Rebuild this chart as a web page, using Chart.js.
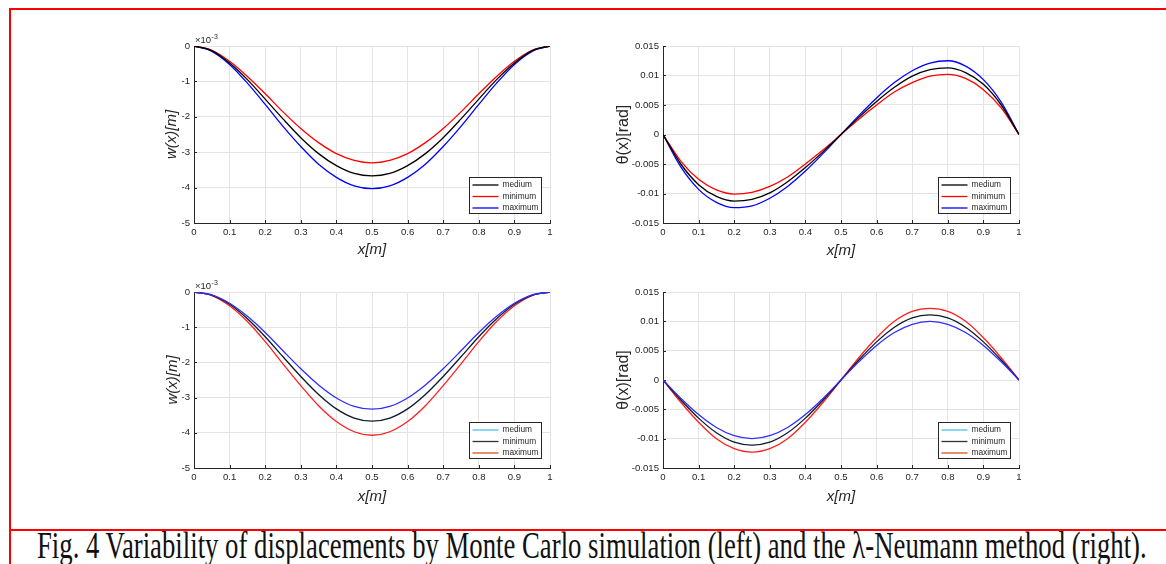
<!DOCTYPE html>
<html>
<head>
<meta charset="utf-8">
<script src="https://cdn.jsdelivr.net/npm/chart.js@4"></script>
<style>
  html, body { margin: 0; padding: 0; width: 1166px; height: 564px; overflow: hidden; background: #fff; }
  #frame { position: absolute; left: 9px; top: 8px; width: 1200px; height: 600px; border-left: 2px solid #f00; border-top: 2px solid #f00; }
  #rule { position: absolute; left: 9px; top: 529px; width: 1200px; height: 2px; background: #f00; }
  canvas { position: absolute; }
  #caption { position: absolute; left: 37px; top: 526px; font-family: "Liberation Serif", "Times New Roman", serif; font-size: 38px; line-height: 38px; white-space: nowrap; color: #111; transform-origin: 0 0; }
</style>
</head>
<body>
<div id="frame"></div>
<div id="rule"></div>
<canvas id="mcDisp" width="414" height="233" style="left:150px;top:26px"></canvas>
<canvas id="mcRot" width="424" height="234" style="left:606px;top:26px"></canvas>
<canvas id="lnDisp" width="414" height="234" style="left:150px;top:272px"></canvas>
<canvas id="lnRot" width="424" height="234" style="left:606px;top:272px"></canvas>
<div id="caption">Fig. 4 Variability of displacements by Monte Carlo simulation (left) and the λ-Neumann method (right).</div>
<script>
// x positions along the beam [m]
const xValues = [0, 0.05, 0.1, 0.15, 0.2, 0.25, 0.3, 0.35, 0.4, 0.45, 0.5, 0.55, 0.6, 0.65, 0.7, 0.75, 0.8, 0.85, 0.9, 0.95, 1];
const seriesLabels = ['medium', 'minimum', 'maximum'];

// Monte Carlo - displacement w(x), units of 1e-3 m
const mcDispMedium  = [0, -0.13, -0.48, -0.95, -1.50, -2.06, -2.59, -3.04, -3.38, -3.60, -3.67, -3.60, -3.38, -3.04, -2.59, -2.06, -1.50, -0.95, -0.48, -0.13, 0];
const mcDispMinimum = [0, -0.12, -0.43, -0.86, -1.35, -1.86, -2.33, -2.73, -3.04, -3.23, -3.30, -3.23, -3.04, -2.73, -2.33, -1.86, -1.35, -0.86, -0.43, -0.12, 0];
const mcDispMaximum = [0, -0.15, -0.52, -1.05, -1.65, -2.27, -2.84, -3.34, -3.71, -3.95, -4.03, -3.95, -3.71, -3.34, -2.84, -2.27, -1.65, -1.05, -0.52, -0.15, 0];

// Monte Carlo - rotation theta(x) [rad]
const mcRotMedium  = [0, -0.0050, -0.0085, -0.0105, -0.0113, -0.0110, -0.0099, -0.0080, -0.0056, -0.0029, 0, 0.0029, 0.0056, 0.0080, 0.0099, 0.0110, 0.0113, 0.0105, 0.0085, 0.0050, 0];
const mcRotMinimum = [0, -0.0045, -0.0076, -0.0094, -0.0101, -0.0098, -0.0088, -0.0072, -0.0050, -0.0026, 0, 0.0026, 0.0050, 0.0072, 0.0088, 0.0099, 0.0102, 0.0095, 0.0076, 0.0045, 0];
const mcRotMaximum = [0, -0.0055, -0.0093, -0.0115, -0.0124, -0.0121, -0.0108, -0.0088, -0.0062, -0.0032, 0, 0.0032, 0.0062, 0.0088, 0.0108, 0.0121, 0.0125, 0.0116, 0.0093, 0.0055, 0];

// lambda-Neumann - displacement w(x), units of 1e-3 m
const lnDispMedium  = [0, -0.08, -0.32, -0.69, -1.15, -1.67, -2.18, -2.64, -3.01, -3.25, -3.33, -3.25, -3.01, -2.64, -2.18, -1.67, -1.15, -0.69, -0.32, -0.08, 0];
const lnDispMinimum = [0, -0.09, -0.35, -0.76, -1.27, -1.84, -2.40, -2.91, -3.32, -3.58, -3.67, -3.58, -3.32, -2.91, -2.40, -1.84, -1.27, -0.76, -0.35, -0.09, 0];
const lnDispMaximum = [0, -0.10, -0.39, -0.84, -1.41, -2.04, -2.66, -3.23, -3.68, -3.97, -4.07, -3.97, -3.68, -3.23, -2.66, -2.04, -1.41, -0.84, -0.39, -0.10, 0];

// lambda-Neumann - rotation theta(x) [rad]
const lnRotMedium  = [0, -0.0031, -0.0059, -0.0081, -0.0095, -0.0100, -0.0095, -0.0081, -0.0059, -0.0031, 0, 0.0031, 0.0059, 0.0081, 0.0095, 0.0100, 0.0095, 0.0081, 0.0059, 0.0031, 0];
const lnRotMinimum = [0, -0.0034, -0.0065, -0.0090, -0.0106, -0.0111, -0.0106, -0.0090, -0.0065, -0.0034, 0, 0.0034, 0.0065, 0.0090, 0.0106, 0.0111, 0.0106, 0.0090, 0.0065, 0.0034, 0];
const lnRotMaximum = [0, -0.0038, -0.0072, -0.0100, -0.0117, -0.0123, -0.0117, -0.0100, -0.0072, -0.0038, 0, 0.0038, 0.0072, 0.0100, 0.0117, 0.0122, 0.0117, 0.0100, 0.0072, 0.0038, 0];

const SANS = '"Liberation Sans", Arial, sans-serif';
const axisColor = '#262626';
const gridColor = '#e3e3e3';

// MATLAB style ticks pointing into the axes
const innerTicks = {
    id: 'innerTicks',
    beforeDatasetsDraw(chart) {
        const { ctx, chartArea: a, scales: { x, y } } = chart;
        ctx.save();
        ctx.strokeStyle = axisColor;
        ctx.lineWidth = 1;
        ctx.beginPath();
        x.ticks.forEach(t => {
            const px = Math.round(x.getPixelForValue(t.value)) + 0.5;
            ctx.moveTo(px, a.bottom); ctx.lineTo(px, a.bottom - 3);
        });
        y.ticks.forEach(t => {
            const py = Math.round(y.getPixelForValue(t.value)) + 0.5;
            ctx.moveTo(a.left, py); ctx.lineTo(a.left + 3, py);
        });
        ctx.stroke();
        ctx.restore();
    }
};

// boxed legend in the lower right corner
const boxLegend = {
    id: 'boxLegend',
    afterDraw(chart) {
        const { ctx, chartArea: a } = chart;
        const w = 72, h = 36;
        const left = Math.round(a.right - 9 - w) + 0.5;
        const top = Math.round(a.bottom - 10 - h) + 0.5;
        ctx.save();
        ctx.fillStyle = '#fff';
        ctx.fillRect(left, top, w, h);
        ctx.strokeStyle = axisColor;
        ctx.lineWidth = 1;
        ctx.strokeRect(left, top, w, h);
        ctx.font = '8.3px ' + SANS;
        ctx.textBaseline = 'middle';
        chart.data.datasets.forEach((ds, i) => {
            const yy = top + 7.5 + i * 11.5;
            ctx.strokeStyle = ds.legendColor || ds.borderColor;
            ctx.lineWidth = 1.3;
            ctx.beginPath(); ctx.moveTo(left + 3, yy); ctx.lineTo(left + 29, yy); ctx.stroke();
            ctx.fillStyle = axisColor;
            ctx.fillText(ds.label, left + 33, yy);
        });
        ctx.restore();
    }
};

// x10^-3 multiplier above the y axis
const exponentLabel = {
    id: 'exponentLabel',
    afterDraw(chart) {
        const { ctx, chartArea: a } = chart;
        ctx.save();
        ctx.fillStyle = axisColor;
        ctx.textBaseline = 'alphabetic';
        ctx.font = '9.5px ' + SANS;
        ctx.fillText('×10', a.left + 1, a.top - 3);
        const w = ctx.measureText('×10').width;
        ctx.font = '7px ' + SANS;
        ctx.fillText('-3', a.left + 1.5 + w, a.top - 7);
        ctx.restore();
    }
};

const makeDatasets = (values, colors, legendColors) => values.map((arr, i) => ({
    label: seriesLabels[i],
    data: arr,
    borderColor: colors[i],
    legendColor: legendColors ? legendColors[i] : colors[i],
    borderWidth: 1.3,
    pointRadius: 0,
    fill: false,
    cubicInterpolationMode: 'monotone'
}));

const createPlot = (id, box, yTitle, yRange, datasets, extraPlugins) => {
    const titleFont = (size, style) => ({ family: SANS, size: size, style: style });
    new Chart(document.getElementById(id), {
        type: 'line',
        data: { labels: xValues, datasets: datasets },
        plugins: [innerTicks, boxLegend].concat(extraPlugins || []),
        options: {
            responsive: false,
            animation: false,
            layout: { padding: { top: box.padTop, right: box.padRight, left: 0, bottom: 0 } },
            plugins: { legend: { display: false }, tooltip: { enabled: false } },
            scales: {
                x: {
                    type: 'linear', min: 0, max: 1,
                    afterFit: s => { s.height = box.xHeight; },
                    ticks: { stepSize: 0.1, padding: 4, color: axisColor, font: { family: SANS, size: 9.6 }, maxRotation: 0, autoSkip: false,
                             callback: v => String(+v.toFixed(1)) },
                    grid: { color: gridColor, drawTicks: false },
                    border: { color: axisColor, width: 1 },
                    title: { display: true, text: 'x[m]', color: axisColor, font: titleFont(15, 'italic'), padding: { top: 0, bottom: 0 } }
                },
                y: {
                    min: yRange.min, max: yRange.max,
                    afterFit: s => { s.width = box.yWidth; },
                    ticks: { stepSize: yRange.step, padding: 4, color: axisColor, font: { family: SANS, size: 9.6 }, autoSkip: false,
                             callback: v => String(+v.toFixed(3)) },
                    grid: { color: gridColor, drawTicks: false },
                    border: { color: axisColor, width: 1 },
                    title: { display: true, text: yTitle.text, color: axisColor, font: titleFont(yTitle.size, yTitle.style), padding: { top: box.yTitlePad, bottom: 0 } }
                }
            }
        }
    });
};

const wTitle = { text: 'w(x)[m]', size: 15, style: 'italic' };
const thTitle = { text: 'θ(x)[rad]', size: 16, style: 'normal' };
const wRange = { min: -5, max: 0, step: 1 };
const thRange = { min: -0.015, max: 0.015, step: 0.005 };

createPlot('mcDisp', { padTop: 20, padRight: 14, yWidth: 44, xHeight: 36, yTitlePad: 13 }, wTitle, wRange,
    makeDatasets([mcDispMedium, mcDispMinimum, mcDispMaximum], ['#000000', '#ff0000', '#0000ff']), [exponentLabel]);
createPlot('mcRot', { padTop: 20, padRight: 11, yWidth: 57, xHeight: 37, yTitlePad: 8.2 }, thTitle, thRange,
    makeDatasets([mcRotMedium, mcRotMinimum, mcRotMaximum], ['#000000', '#ff0000', '#0000ff']));
createPlot('lnDisp', { padTop: 20, padRight: 14, yWidth: 44, xHeight: 38, yTitlePad: 13.5 }, wTitle, wRange,
    makeDatasets([lnDispMedium, lnDispMinimum, lnDispMaximum], ['#2d2dff', '#0b1a28', '#ff2020'], ['#4dbeee', '#333333', '#d95319']), [exponentLabel]);
createPlot('lnRot', { padTop: 20, padRight: 11, yWidth: 57, xHeight: 38, yTitlePad: 8.2 }, thTitle, thRange,
    makeDatasets([lnRotMedium, lnRotMinimum, lnRotMaximum], ['#2d2dff', '#0b1a28', '#ff2020'], ['#4dbeee', '#333333', '#d95319']));

// stretch the caption to the width it has in the figure
const caption = document.getElementById('caption');
caption.style.transform = 'scaleX(' + (1110 / caption.offsetWidth) + ')';
</script>
</body>
</html>
